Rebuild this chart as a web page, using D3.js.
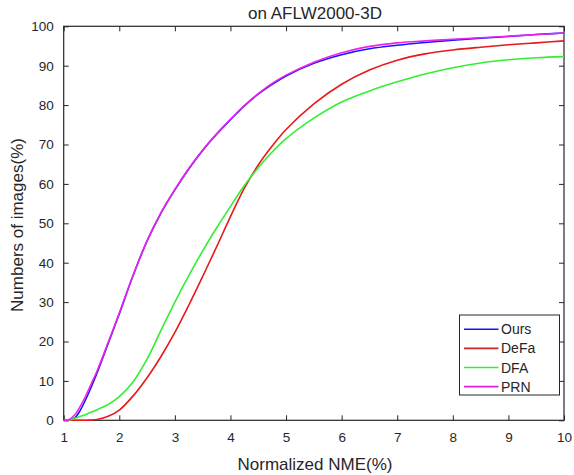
<!DOCTYPE html>
<html>
<head>
<meta charset="utf-8">
<script src="https://cdn.jsdelivr.net/npm/d3@7"></script>
<style>
  body { margin: 0; background: #fff; }
  text { font-family: "Liberation Sans", Arial, sans-serif; fill: #262626; }
</style>
</head>
<body>
<div id="viz"></div>
<script>
// data
let nme = [1, 1.1, 1.2, 1.3, 1.4, 1.5, 1.6, 1.8, 2, 2.25, 2.5, 2.75, 3, 3.25, 3.5, 3.75, 4, 4.25, 4.5, 4.75, 5, 5.5, 6, 6.5, 7, 7.5, 8, 8.5, 9, 9.5, 10]

let ours = [0, 0, 0.6, 2.6, 5.4, 8.6, 12, 19.5, 27, 36.8, 45.5, 52.6, 58.5, 63.8, 68.5, 72.6, 76.3, 79.8, 82.8, 85.3, 87.4, 90.6, 92.8, 94.3, 95.2, 95.9, 96.5, 97, 97.4, 97.9, 98.3]
let defa = [0, 0, 0, 0, 0, 0.05, 0.2, 1, 2.6, 6.2, 10.8, 16.2, 22.3, 29.2, 36.5, 44, 51.7, 58.9, 64.8, 69.6, 73.8, 80.3, 85.3, 88.9, 91.4, 93, 94, 94.7, 95.3, 95.8, 96.3]
let dfa = [0, 0.1, 0.5, 1, 1.5, 2.1, 2.7, 4, 6, 9.8, 15.5, 22.8, 30, 36.7, 43, 48.8, 54.3, 59.6, 64.1, 68.1, 71.5, 76.7, 80.8, 83.6, 85.9, 87.9, 89.5, 90.7, 91.5, 92, 92.3]
let prn = [0, 0.2, 1.4, 3.6, 6.3, 9.4, 12.5, 19.8, 27.2, 36.9, 45.6, 52.7, 58.6, 63.9, 68.6, 72.7, 76.4, 79.9, 82.9, 85.5, 87.6, 90.9, 93.3, 94.9, 95.8, 96.3, 96.7, 97.1, 97.5, 97.9, 98.3]

let seriesNames = ['Ours', 'DeFa', 'DFA', 'PRN']
let seriesValues = [ours, defa, dfa, prn]
let seriesColors = ['#1515ff', '#e8191a', '#33ee33', '#ee22ee']
let legendColors = ['#1515ff', '#c42a2a', '#33ee33', '#dd22dd']

let xTicks = d3.range(1, 11)
let yTicks = d3.range(0, 101, 10)

let width = 574, height = 475
let plotLeft = 63.7, plotRight = 564, plotTop = 26.3, plotBottom = 420.3

let svg = d3.select('#viz')
			.append('svg')
			.attr('width', width)
			.attr('height', height)

let x = d3.scaleLinear().domain([1, 10]).range([plotLeft, plotRight])
let y = d3.scaleLinear().domain([0, 100]).range([plotBottom, plotTop])

//axes, matlab style with inner ticks on all sides
let axisStyle = g => {
	g.select('.domain').remove()
	g.selectAll('line').attr('stroke', '#262626').attr('stroke-width', 1)
	g.selectAll('text').style('font-size', '13.5px').attr('fill', '#262626')
}

svg.append('g')
	.attr('transform', `translate(0,${plotBottom})`)
	.call(d3.axisBottom(x).tickValues(xTicks).tickSize(-5).tickPadding(12).tickFormat(d3.format('d')))
	.call(axisStyle)

svg.append('g')
	.attr('transform', `translate(0,${plotTop})`)
	.call(d3.axisTop(x).tickValues(xTicks).tickSize(-5).tickFormat(''))
	.call(axisStyle)

svg.append('g')
	.attr('transform', `translate(${plotLeft},0)`)
	.call(d3.axisLeft(y).tickValues(yTicks).tickSize(-5).tickPadding(10))
	.call(axisStyle)

svg.append('g')
	.attr('transform', `translate(${plotRight},0)`)
	.call(d3.axisRight(y).tickValues(yTicks).tickSize(-5).tickFormat(''))
	.call(axisStyle)

svg.append('rect')
	.attr('x', plotLeft)
	.attr('y', plotTop)
	.attr('width', plotRight - plotLeft)
	.attr('height', plotBottom - plotTop)
	.attr('fill', 'none')
	.attr('stroke', '#262626')
	.attr('stroke-width', 1.2)

//curves
let line = d3.line()
			.x((d, i) => x(nme[i]))
			.y(d => y(Math.max(0, d)))
			.curve(d3.curveCatmullRom.alpha(0.5))

svg.append('g')
	.selectAll('path')
	.data(seriesValues)
	.enter()
	.append('path')
	.attr('d', line)
	.attr('fill', 'none')
	.attr('stroke', (d, i) => seriesColors[i])
	.attr('stroke-width', 1.6)

//labels
svg.append('text')
	.attr('x', 315)
	.attr('y', 19)
	.attr('text-anchor', 'middle')
	.style('font-size', '17px')
	.text('on AFLW2000-3D')

svg.append('text')
	.attr('x', 315)
	.attr('y', 470)
	.attr('text-anchor', 'middle')
	.style('font-size', '17px')
	.text('Normalized NME(%)')

svg.append('text')
	.attr('transform', 'translate(23,225) rotate(-90)')
	.attr('text-anchor', 'middle')
	.style('font-size', '17px')
	.text('Numbers of images(%)')

//legend
let legend = svg.append('g')
				.attr('transform', 'translate(459.5,315)')

legend.append('rect')
	.attr('width', 100)
	.attr('height', 80)
	.attr('fill', '#fff')
	.attr('stroke', '#262626')
	.attr('stroke-width', 1)

let items = legend.selectAll('.item')
				.data(seriesNames)
				.enter()
				.append('g')
				.attr('transform', (d, i) => `translate(0,${14.3 + i * 19.1})`)

items.append('line')
	.attr('x1', 4.5)
	.attr('x2', 39)
	.attr('stroke', (d, i) => legendColors[i])
	.attr('stroke-width', 1.6)

items.append('text')
	.attr('x', 41.5)
	.attr('dy', '0.36em')
	.style('font-size', '14px')
	.text(d => d)
</script>
</body>
</html>
